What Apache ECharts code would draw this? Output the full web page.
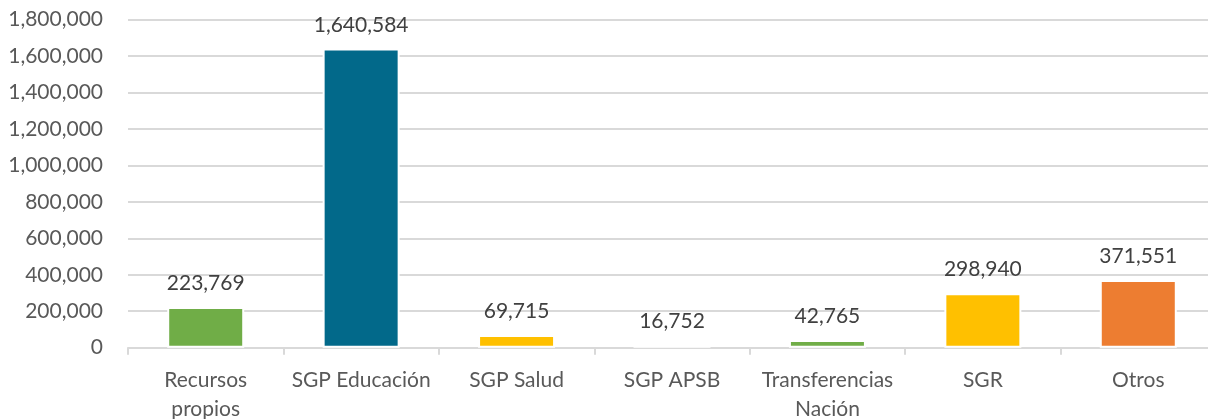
<!DOCTYPE html>
<html>
<head>
<meta charset="utf-8">
<script src="https://cdn.jsdelivr.net/npm/echarts@6/dist/echarts.min.js"></script>
<style>
  html, body { margin: 0; padding: 0; background: #ffffff; }
  #chart { width: 1208px; height: 419px; }
</style>
</head>
<body>
<div id="chart"></div>
<script>
// Funding sources and amounts
const categories = ['Recursos\npropios', 'SGP Educación', 'SGP Salud', 'SGP APSB', 'Transferencias\nNación', 'SGR', 'Otros'];
const values = [223769, 1640584, 69715, 16752, 42765, 298940, 371551];
const barColors = ['#70AD47', '#02698A', '#FFC000', '#4472C4', '#70AD47', '#FFC000', '#ED7D31'];
const yTicks = [0, 200000, 400000, 600000, 800000, 1000000, 1200000, 1400000, 1600000, 1800000];

const fmt = v => Number(v).toLocaleString('en-US');
const FONT = 'Lato';

const chart = echarts.init(document.getElementById('chart'), null, { renderer: 'canvas' });
chart.setOption({
  animation: false,
  backgroundColor: '#ffffff',
  grid: { left: 128, right: -8, top: 19.5, bottom: 71.3, outerBoundsMode: 'none', containLabel: false },
  xAxis: {
    type: 'category',
    data: categories,
    axisLine: { show: true, lineStyle: { color: '#d9d9d9', width: 2 } },
    axisTick: { show: true, length: 7, lineStyle: { color: '#d9d9d9', width: 2 } },
    axisLabel: {
      color: '#595959', fontFamily: FONT, fontSize: 21, margin: 18, lineHeight: 29,
      interval: 0
    }
  },
  yAxis: {
    type: 'value',
    min: yTicks[0],
    max: yTicks[yTicks.length - 1],
    interval: yTicks[1] - yTicks[0],
    axisLine: { show: false },
    axisTick: { show: false },
    splitLine: { lineStyle: { color: '#d9d9d9', width: 2 } },
    axisLabel: { color: '#595959', fontFamily: FONT, fontSize: 21, margin: 25, formatter: fmt }
  },
  series: [{
    type: 'bar',
    barWidth: 77,
    data: values.map((v, i) => ({ value: v, itemStyle: { color: barColors[i] } })),
    itemStyle: { borderColor: '#ffffff', borderWidth: 2 },
    label: {
      show: true, position: 'top', distance: 13,
      color: '#404040', fontFamily: FONT, fontSize: 21,
      formatter: p => fmt(p.value)
    }
  }]
});
</script>
</body>
</html>
